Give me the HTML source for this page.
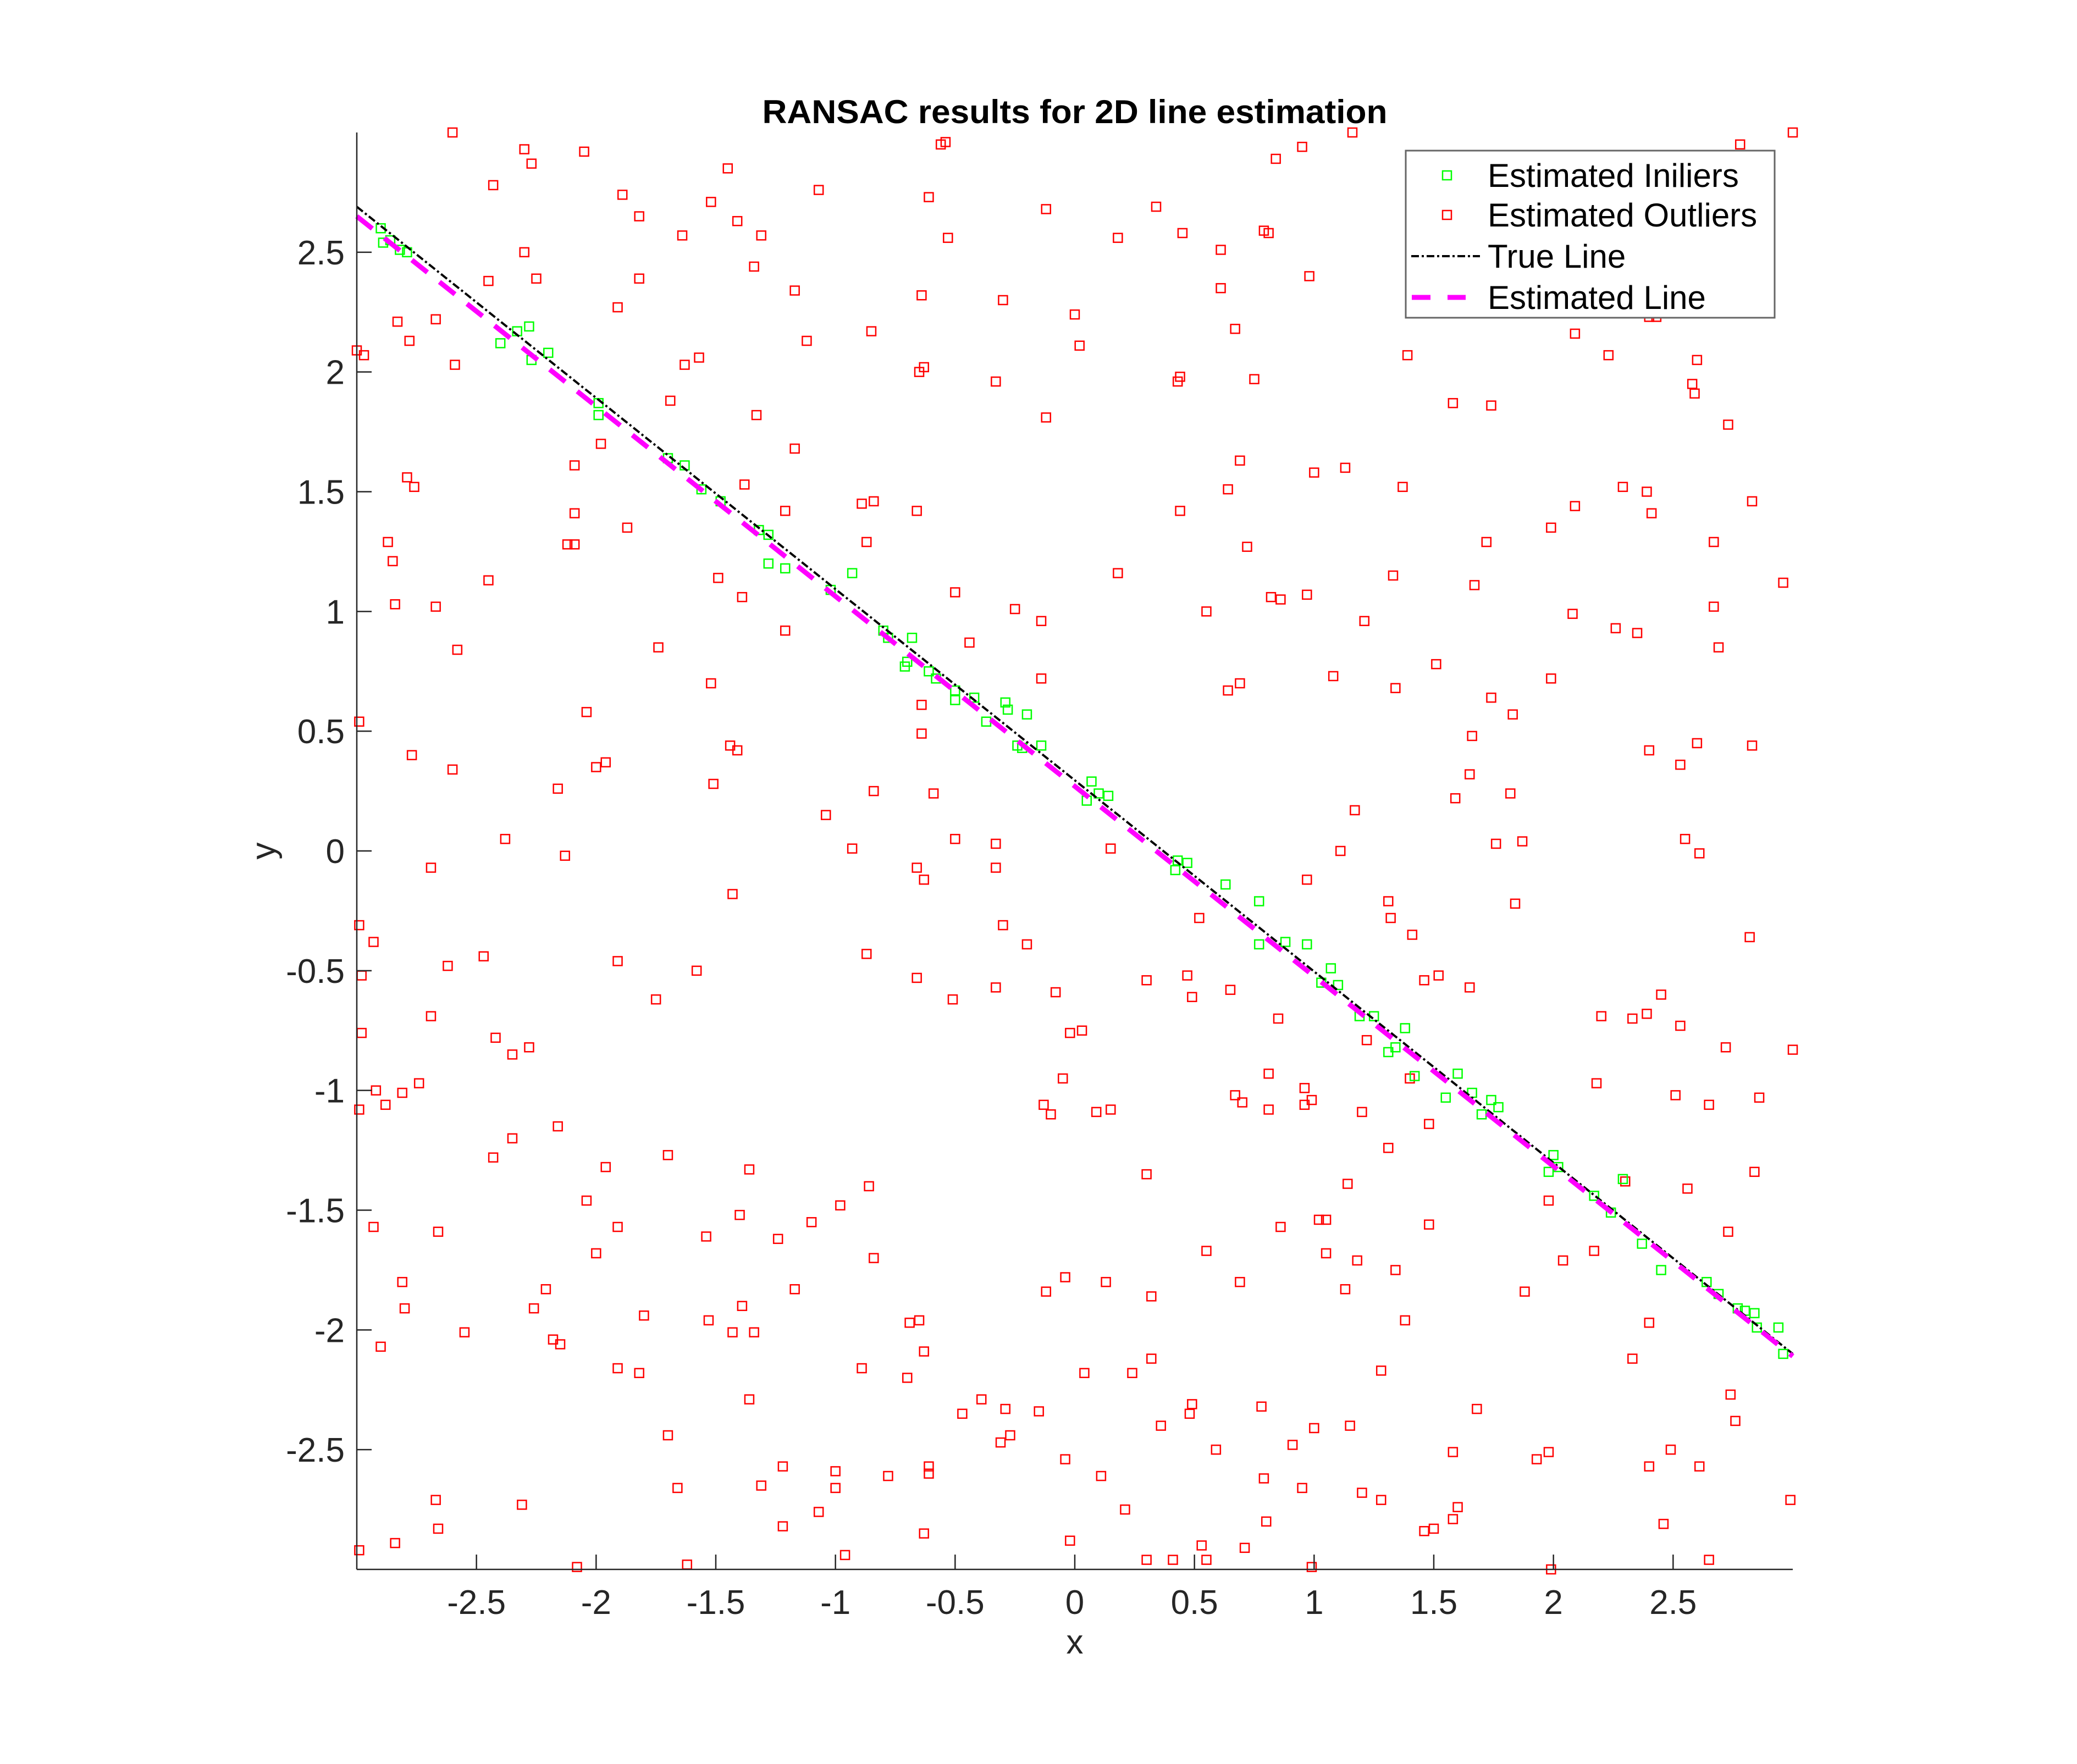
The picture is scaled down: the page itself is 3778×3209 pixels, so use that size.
<!DOCTYPE html>
<html>
<head>
<meta charset="utf-8">
<style>
html,body{margin:0;padding:0;background:#fff;}
svg{display:block;}
text{font-family:"Liberation Sans",Arial,sans-serif;}
</style>
</head>
<body>
<svg id="chart" width="3778" height="3209" viewBox="0 0 3778 3209" xmlns="http://www.w3.org/2000/svg">
  <rect x="0" y="0" width="3778" height="3209" fill="#ffffff"/>
  <text x="1955" y="224" text-anchor="middle" font-size="60" font-weight="bold" fill="#000" textLength="1137" lengthAdjust="spacingAndGlyphs">RANSAC results for 2D line estimation</text>
  <g id="plot"></g>
  <g id="axes"></g>
  <text x="1955" y="3008" text-anchor="middle" font-size="62" fill="#262626">x</text>
  <text x="0" y="0" transform="translate(500,1548) rotate(-90)" text-anchor="middle" font-size="62" fill="#262626">y</text>
  <g id="legend">
    <rect x="2557" y="274" width="671" height="304" fill="#fff" stroke="#666" stroke-width="3"/>
    <rect x="2624" y="311" width="16" height="16" fill="none" stroke="#00ff00" stroke-width="2.5"/>
    <text x="2706" y="340" font-size="60" fill="#000">Estimated Iniliers</text>
    <rect x="2624" y="383" width="16" height="16" fill="none" stroke="#ff0000" stroke-width="2.5"/>
    <text x="2706" y="412" font-size="60" fill="#000">Estimated Outliers</text>
    <line x1="2567" y1="466" x2="2692" y2="466" stroke="#000" stroke-width="4" stroke-dasharray="14 5 4 5"/>
    <text x="2706" y="487" font-size="60" fill="#000">True Line</text>
    <line x1="2568" y1="541" x2="2666" y2="541" stroke="#ff00ff" stroke-width="9" stroke-dasharray="34 31"/>
    <text x="2706" y="562" font-size="60" fill="#000">Estimated Line</text>
  </g>
</svg>
<script>
var xTicks = [-2.5, -2, -1.5, -1, -0.5, 0, 0.5, 1, 1.5, 2, 2.5];
var xTickLabels = ["-2.5","-2","-1.5","-1","-0.5","0","0.5","1","1.5","2","2.5"];
var yTicks = [-2.5, -2, -1.5, -1, -0.5, 0, 0.5, 1, 1.5, 2, 2.5];
var yTickLabels = ["-2.5","-2","-1.5","-1","-0.5","0","0.5","1","1.5","2","2.5"];
var trueLineX = [-3, 3];
var trueLineY = [2.69, -2.10];
var estLineX = [-3, 3];
var estLineY = [2.65, -2.11];
var inlierX = [-2.89,-2.86,-2.82,-2.79,-2.90,-2.40,-2.33,-2.28,-2.27,-2.20,-1.99,-1.99,-1.70,-1.63,-1.56,-1.48,-1.32,-1.28,-1.28,-1.21,-1.02,-0.93,-0.80,-0.78,-0.71,-0.70,-0.68,-0.61,-0.58,-0.50,-0.50,-0.42,-0.37,-0.29,-0.28,-0.20,-0.24,-0.22,-0.14,0.07,0.10,0.14,0.05,0.43,0.42,0.47,0.63,0.77,0.77,0.88,0.97,1.07,1.03,1.10,1.19,1.25,1.31,1.38,1.34,1.42,1.55,1.60,1.66,1.70,1.74,1.77,1.98,2.00,2.02,2.17,2.24,2.29,2.37,2.45,2.64,2.69,2.77,2.80,2.84,2.85,2.94,2.96];
var inlierY = [2.54,2.55,2.51,2.50,2.60,2.12,2.17,2.19,2.05,2.08,1.87,1.82,1.64,1.61,1.51,1.46,1.34,1.32,1.20,1.18,1.09,1.16,0.92,0.89,0.77,0.79,0.89,0.75,0.72,0.67,0.63,0.64,0.54,0.62,0.59,0.57,0.44,0.43,0.44,0.29,0.24,0.23,0.21,-0.04,-0.08,-0.05,-0.14,-0.21,-0.39,-0.38,-0.39,-0.49,-0.55,-0.56,-0.69,-0.69,-0.84,-0.74,-0.82,-0.94,-1.03,-0.93,-1.01,-1.10,-1.04,-1.07,-1.34,-1.27,-1.32,-1.44,-1.51,-1.37,-1.64,-1.75,-1.80,-1.85,-1.91,-1.92,-1.93,-1.99,-1.99,-2.10];
var outlierX = [-2.60,-2.30,-2.43,-2.27,-2.05,-1.89,-1.82,-1.45,-1.52,-1.41,-1.64,-1.31,-1.34,-1.07,-1.17,-0.61,-0.56,-0.54,-0.53,-0.64,-0.85,-1.12,-2.30,-2.25,-2.45,-2.67,-2.83,-2.78,-3.00,-2.97,-2.59,-1.91,-1.82,-0.30,-0.12,0.00,0.02,0.18,0.34,0.45,0.61,0.61,0.67,0.79,0.81,0.84,0.95,0.98,1.16,1.39,2.78,3.00,2.09,2.23,2.43,2.40,2.60,2.58,2.59,-0.63,-0.65,-0.33,-0.12,0.44,0.43,0.75,1.58,1.74,2.73,-1.63,-1.57,-1.69,-1.33,-1.17,-1.98,-2.09,-2.79,-2.76,-1.38,-1.21,-2.09,-1.87,-2.12,-2.09,-2.87,-2.85,-0.87,-0.89,-0.84,-0.66,-2.45,-2.84,-2.67,-1.39,-1.49,-1.74,-2.58,-1.21,-0.50,-0.44,-0.25,-0.14,-0.14,0.18,0.55,0.64,0.69,0.44,0.72,1.00,1.13,1.37,0.82,0.86,0.97,1.33,1.21,1.51,1.72,1.67,1.99,2.09,2.29,2.39,2.41,2.83,2.67,2.96,2.08,2.26,2.35,2.67,2.69,1.08,0.69,0.64,1.34,1.74,1.83,1.99,1.66,2.40,2.60,2.83,2.53,1.65,1.82,1.59,1.76,1.87,2.55,2.61,1.84,2.82,2.45,2.53,2.39,2.33,2.20,2.72,3.00,2.18,2.51,2.86,2.65,1.17,1.11,0.97,1.31,1.32,1.41,1.52,1.46,1.65,1.22,1.40,1.48,1.20,1.31,0.85,0.81,0.81,0.96,0.99,0.96,0.67,0.70,0.65,0.47,0.49,0.52,0.30,0.15,-0.02,0.03,-0.08,-0.05,-0.20,-0.30,-0.33,-0.33,-0.33,-0.13,-0.10,0.09,0.15,0.30,-0.51,-0.50,-0.59,-0.64,-0.64,-0.66,-0.63,-0.66,-0.87,-0.84,-0.93,-1.04,-1.52,-1.44,-1.41,-1.51,-2.04,-1.96,-2.00,-2.16,-2.13,-2.77,-2.60,-2.38,-2.69,-2.99,-1.43,-1.58,-1.91,-1.75,-2.47,-2.62,-2.99,-2.93,-2.98,-2.98,-2.69,-2.42,-2.35,-2.28,-2.74,-2.81,-2.92,-2.88,-2.99,-2.16,-2.35,-2.43,-1.96,-1.70,-1.36,-0.86,-0.98,-1.10,-1.40,-1.54,-1.24,-2.04,-1.91,-2.93,-2.66,-2.00,-1.17,-0.84,-2.21,-2.81,-2.80,-2.26,-1.80,-2.90,-2.55,-2.18,-2.15,-1.53,-1.43,-1.34,-1.39,-0.69,-0.65,-0.63,-0.89,-0.70,-1.91,-1.82,-1.36,-0.47,-0.39,-0.29,-0.31,-0.27,-0.15,-1.70,-1.66,-1.31,-1.22,-1.22,-1.07,-1.00,-1.00,-0.96,-0.78,-0.61,-0.61,-0.63,-1.62,-2.08,-2.84,-2.99,-2.67,-2.66,-2.31,-0.04,-0.12,0.13,0.32,0.04,0.24,0.32,0.36,0.49,0.48,-0.04,0.11,0.21,-0.02,0.30,0.41,0.53,0.55,0.71,0.80,0.79,0.78,0.59,0.91,1.00,0.95,0.99,1.15,1.20,1.28,1.28,1.18,1.05,1.02,1.05,1.13,1.14,1.34,1.38,1.48,0.86,0.55,0.69,1.58,1.60,1.58,1.46,1.50,1.68,1.93,1.98,1.99,1.88,1.98,2.04,2.17,2.30,2.40,2.33,2.40,2.49,2.46,2.61,2.65,2.74,2.76,2.56,2.84,2.73,2.99];
var outlierY = [3.00,2.93,2.78,2.87,2.92,2.74,2.65,2.85,2.71,2.63,2.57,2.57,2.44,2.76,2.34,2.73,2.95,2.96,2.56,2.32,2.17,2.13,2.50,2.39,2.38,2.22,2.21,2.13,2.09,2.07,2.03,2.27,2.39,2.30,2.68,2.24,2.11,2.56,2.69,2.58,2.51,2.35,2.18,2.59,2.58,2.89,2.94,2.40,3.00,2.07,2.95,3.00,2.16,2.07,2.23,2.23,2.05,1.95,1.91,2.02,2.00,1.96,1.81,1.98,1.96,1.97,1.87,1.86,1.78,2.03,2.06,1.88,1.82,1.68,1.70,1.61,1.56,1.52,1.53,1.42,1.41,1.35,1.28,1.28,1.29,1.21,1.29,1.45,1.46,1.42,1.13,1.03,1.02,1.06,1.14,0.85,0.84,0.92,1.08,0.87,1.01,0.96,0.72,1.16,1.00,1.51,1.63,1.42,1.27,1.58,1.60,1.52,1.06,1.05,1.07,1.15,0.96,0.78,1.29,1.11,1.35,1.44,1.52,1.50,1.41,1.46,1.29,1.12,0.99,0.93,0.91,1.02,0.85,0.73,0.70,0.67,0.68,0.64,0.57,0.72,0.48,0.42,0.45,0.44,0.36,0.32,0.24,0.22,0.03,0.04,0.05,-0.01,-0.22,-0.36,-0.60,-0.73,-0.68,-0.70,-0.69,-0.82,-0.83,-0.97,-1.02,-1.03,-1.06,0.17,0.00,-0.12,-0.21,-0.28,-0.35,-0.52,-0.54,-0.57,-0.79,-0.95,-1.14,-1.09,-1.24,-0.70,-0.93,-1.08,-0.99,-1.04,-1.06,-1.02,-1.05,-0.58,-0.52,-0.61,-0.28,-0.54,0.01,-0.76,-0.75,-0.59,-0.95,-0.39,-0.31,-0.57,0.03,-0.07,-1.06,-1.10,-1.09,-1.08,-1.35,-0.62,0.05,0.24,0.49,0.61,-0.07,-0.12,-0.53,-0.43,0.25,0.01,0.15,0.70,0.44,0.42,0.28,0.58,0.37,0.35,0.26,-0.02,0.40,0.34,0.05,-0.07,0.54,-0.18,-0.50,-0.46,-0.62,-0.44,-0.48,-0.31,-0.38,-0.52,-0.76,-0.69,-0.78,-0.85,-0.82,-0.97,-1.01,-1.00,-1.06,-1.08,-1.15,-1.20,-1.28,-1.32,-1.27,-1.33,-1.40,-1.48,-1.55,-1.52,-1.61,-1.62,-1.46,-1.57,-1.57,-1.59,-1.68,-1.83,-1.70,-1.83,-1.80,-1.91,-1.91,-1.94,-2.07,-2.01,-2.04,-2.06,-1.96,-2.01,-2.01,-1.90,-1.97,-1.96,-2.09,-2.16,-2.20,-2.16,-2.18,-2.29,-2.35,-2.29,-2.33,-2.47,-2.44,-2.34,-2.44,-2.66,-2.65,-2.57,-2.82,-2.76,-2.59,-2.66,-2.94,-2.61,-2.57,-2.60,-2.85,-2.98,-2.99,-2.89,-2.92,-2.71,-2.83,-2.73,-1.78,-1.84,-1.80,-1.86,-2.18,-2.18,-2.12,-2.40,-2.31,-2.35,-2.54,-2.61,-2.75,-2.88,-2.96,-2.96,-2.90,-2.96,-2.91,-2.80,-2.62,-2.32,-2.50,-2.48,-2.41,-2.66,-2.99,-2.40,-2.68,-2.71,-2.17,-1.71,-1.68,-1.54,-1.54,-1.83,-1.39,-1.75,-1.96,-1.56,-1.57,-1.67,-1.80,-2.51,-2.74,-2.79,-2.84,-2.83,-2.33,-2.54,-2.51,-3.00,-1.84,-1.46,-1.71,-1.67,-1.38,-1.97,-2.12,-2.57,-2.50,-2.81,-2.57,-2.96,-2.27,-2.38,-1.41,-1.34,-1.59,-2.71];

var NS = "http://www.w3.org/2000/svg";
var X0 = 649, X1 = 3261, Y0 = 2855, Y1 = 241;
function sx(v){ return X0 + (v + 3) / 6 * (X1 - X0); }
function sy(v){ return Y0 - (v + 3) / 6 * (Y0 - Y1); }
function mk(tag, attrs){ var e = document.createElementNS(NS, tag); for (var k in attrs) e.setAttribute(k, attrs[k]); return e; }

var plot = document.getElementById('plot');
var axes = document.getElementById('axes');

// outliers
for (var i = 0; i < outlierX.length; i++) {
  var r = mk('rect', {x: sx(outlierX[i]) - 8, y: sy(outlierY[i]) - 8, width: 16, height: 16, fill: 'none', stroke: '#ff0000', 'stroke-width': 2.5});
  
  
  plot.appendChild(r);
}
// inliers
for (var j = 0; j < inlierX.length; j++) {
  var g = mk('rect', {x: sx(inlierX[j]) - 8, y: sy(inlierY[j]) - 8, width: 16, height: 16, fill: 'none', stroke: '#00ff00', 'stroke-width': 2.5});
  
  
  plot.appendChild(g);
}
// true line
var tl = mk('line', {x1: sx(trueLineX[0]), y1: sy(trueLineY[0]), x2: sx(trueLineX[1]), y2: sy(trueLineY[1]), stroke: '#000', 'stroke-width': 4, 'stroke-dasharray': '14 5 4 5'});


plot.appendChild(tl);
// estimated line
var el = mk('line', {x1: sx(estLineX[0]), y1: sy(estLineY[0]), x2: sx(estLineX[1]), y2: sy(estLineY[1]), stroke: '#ff00ff', 'stroke-width': 9, 'stroke-dasharray': '36 28'});


plot.appendChild(el);

// axes lines
var xa = mk('line', {x1: X0, y1: Y0, x2: X1, y2: Y0, stroke: '#262626', 'stroke-width': 2.5});


axes.appendChild(xa);
var ya = mk('line', {x1: X0, y1: Y0, x2: X0, y2: Y1, stroke: '#262626', 'stroke-width': 2.5});


axes.appendChild(ya);

for (var a = 0; a < xTicks.length; a++) {
  var px = sx(xTicks[a]);
  var t = mk('line', {x1: px, y1: Y0, x2: px, y2: Y0 - 27, stroke: '#262626', 'stroke-width': 2.5});
  
  
  axes.appendChild(t);
  var lb = mk('text', {x: px, y: 2936, 'text-anchor': 'middle', 'font-size': 62, fill: '#262626'});
  lb.textContent = xTickLabels[a];
  
  
  axes.appendChild(lb);
}
for (var b = 0; b < yTicks.length; b++) {
  var py = sy(yTicks[b]);
  var t2 = mk('line', {x1: X0, y1: py, x2: X0 + 27, y2: py, stroke: '#262626', 'stroke-width': 2.5});
  
  
  axes.appendChild(t2);
  var lb2 = mk('text', {x: 627, y: py + 22, 'text-anchor': 'end', 'font-size': 62, fill: '#262626'});
  lb2.textContent = yTickLabels[b];
  
  
  axes.appendChild(lb2);
}
</script>
</body>
</html>
